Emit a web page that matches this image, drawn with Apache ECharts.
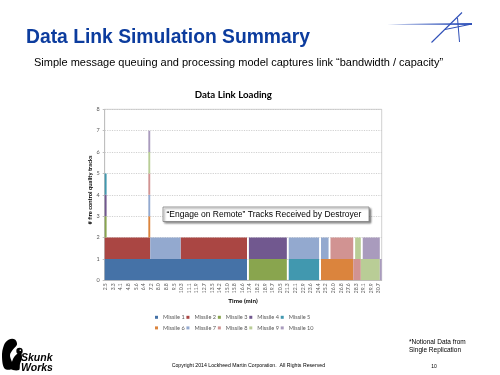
<!DOCTYPE html>
<html><head><meta charset="utf-8">
<script src="https://cdn.jsdelivr.net/npm/echarts@6/dist/echarts.min.js"></script>
<style>html,body{margin:0;padding:0;background:#fff}#c{width:500px;height:375px}</style>
</head><body><div id="c"></div>
<script>
// Time categories (min); every 4th one is labelled on the axis
const times = ["2.5","2.7","2.9","3.1","3.3","3.5","3.7","3.9","4.1","4.3",
"4.5","4.7","4.8","5.0","5.2","5.4","5.6","5.8","6.0","6.2",
"6.4","6.6","6.8","7.0","7.2","7.4","7.6","7.8","8.0","8.2",
"8.4","8.6","8.8","9.0","9.2","9.3","9.5","9.7","9.9","10.1",
"10.3","10.5","10.7","10.9","11.1","11.3","11.5","11.7","11.9","12.1",
"12.3","12.5","12.7","12.9","13.1","13.3","13.5","13.7","13.9","14.0",
"14.2","14.4","14.6","14.8","15.0","15.2","15.4","15.6","15.8","16.0",
"16.2","16.4","16.6","16.8","17.0","17.2","17.4","17.6","17.8","18.0",
"18.2","18.4","18.5","18.7","18.9","19.1","19.3","19.5","19.7","19.9",
"20.1","20.3","20.5","20.7","20.9","21.1","21.3","21.5","21.7","21.9",
"22.1","22.3","22.5","22.7","22.9","23.0","23.2","23.4","23.6","23.8",
"24.0","24.2","24.4","24.6","24.8","25.0","25.2","25.4","25.6","25.8",
"26.0","26.2","26.4","26.6","26.8","27.0","27.2","27.4","27.6","27.7",
"27.9","28.1","28.3","28.5","28.7","28.9","29.1","29.3","29.5","29.7",
"29.9","30.1","30.3","30.5","30.7","30.9"];

const seriesNames = ["Missile 1","Missile 2","Missile 3","Missile 4","Missile 5",
                     "Missile 6","Missile 7","Missile 8","Missile 9","Missile 10"];

// Tracks per missile at each time category (one digit per category, grouped by 10)
const missile1  = "1111111111 1111111111 1111111111 1111111111 1111111111 1111111111 1111111111 1111100000 0000000000 0000000000 0000000000 0000000000 0000000000 0000000000 000000";
const missile2  = "1111111111 1111111111 1111000000 0000000000 1111111111 1111111111 1111111111 1111100000 0000000000 0000000000 0000000000 0000000000 0000000000 0000000000 000000";
const missile3  = "1000000000 0000000000 0000000000 0000000000 0000000000 0000000000 0000000000 0000001111 1111111111 1111110000 0000000000 0000000000 0000000000 0000000000 000000";
const missile4  = "1000000000 0000000000 0000000000 0000000000 0000000000 0000000000 0000000000 0000001111 1111111111 1111110000 0000000000 0000000000 0000000000 0000000000 000000";
const missile5  = "1000000000 0000000000 0000000000 0000000000 0000000000 0000000000 0000000000 0000000000 0000000000 0000000111 1111111111 1110000000 0000000000 0000000000 000000";
const missile6  = "0000000000 0000000000 0001000000 0000000000 0000000000 0000000000 0000000000 0000000000 0000000000 0000000000 0000000000 0000111111 1111111111 1000000000 000000";
const missile7  = "0000000000 0000000000 0001111111 1111111111 0000000000 0000000000 0000000000 0000000000 0000000000 0000000111 1111111111 1110111100 0000000000 0000000000 000000";
const missile8  = "0000000000 0000000000 0001000000 0000000000 0000000000 0000000000 0000000000 0000000000 0000000000 0000000000 0000000000 0000000001 1111111111 1111100000 000000";
const missile9  = "0000000000 0000000000 0001000000 0000000000 0000000000 0000000000 0000000000 0000000000 0000000000 0000000000 0000000000 0000000000 0000000000 0011111111 111110";
const missile10 = "0000000000 0000000000 0001000000 0000000000 0000000000 0000000000 0000000000 0000000000 0000000000 0000000000 0000000000 0000000000 0000000000 0000001111 111111";

const seriesColors = ["#4572A7","#AA4643","#89A54E","#71588F","#4198AF",
                      "#DB843D","#93A9CF","#D19392","#B9CD96","#A99BBD"];

const rows = [missile1,missile2,missile3,missile4,missile5,missile6,missile7,missile8,missile9,missile10]
  .map(s => { const a = s.replace(/\s/g,'').split('').map(Number);
              if (a.length !== times.length) throw new Error('length ' + a.length); return a; });

const chart = echarts.init(document.getElementById('c'), null, {renderer:'canvas'});
const lbl = '#595959';
const cf = 'Lato, "Open Sans", sans-serif';
const arial = '"Liberation Sans", Arial, sans-serif';

const legendBase = {icon: 'rect', itemWidth: 3, itemHeight: 3, itemGap: 1.8, padding: 0,
  textStyle: {fontSize: 5.6, color: lbl, fontFamily: cf}};

chart.setOption({
  animation: false,
  backgroundColor: '#ffffff',
  grid: {left: 104.7, top: 109.3, width: 277, height: 171, show: true, borderColor: '#d0d0d0', borderWidth: 1, containLabel: false},
  xAxis: {
    type: 'category', data: times, boundaryGap: true,
    axisLine: {lineStyle: {color: '#bfbfbf'}},
    axisTick: {show: false},
    axisLabel: {interval: 3, rotate: 90, fontSize: 5, color: lbl, fontFamily: cf, margin: 3},
    splitLine: {show: false}
  },
  yAxis: {
    type: 'value', min: 0, max: 8, interval: 1,
    axisLine: {show: true, lineStyle: {color: '#bfbfbf'}},
    axisTick: {show: true, length: 2, lineStyle: {color: '#bfbfbf'}},
    axisLabel: {fontSize: 5.5, color: lbl, fontFamily: cf, margin: 5},
    splitLine: {lineStyle: {color: '#c4c4c4', type: [1.2, 1.2], width: 0.8}}
  },
  legend: [
    Object.assign({data: seriesNames.slice(0,5), left: 155, top: 314.3}, legendBase),
    Object.assign({data: seriesNames.slice(5), left: 155, top: 324.9}, legendBase)
  ],
  series: seriesNames.map((n, i) => ({
    name: n, type: 'bar', stack: 'tracks',
    data: rows[i].map(v => v === 0 ? '-' : v),
    barCategoryGap: '0%',
    large: true, largeThreshold: 1,
    itemStyle: {color: seriesColors[i]}
  })),
  graphic: [
    {type: 'text', x: 26, y: 37.6, style: {text: 'Data Link Simulation Summary', font: 'bold 19.3px ' + arial, fill: '#0c3c9e', textAlign: 'left', textVerticalAlign: 'middle'}},
    {type: 'text', x: 34, y: 63, style: {text: 'Simple message queuing and processing model captures link \u201Cbandwidth / capacity\u201D', font: '11px ' + arial, fill: '#000', textAlign: 'left', textVerticalAlign: 'middle'}},
    // logo
    {type: 'polygon', shape: {points: [[387,24.3],[472,23.0],[472,25.0]]}, style: {fill: '#3355bb'}},
    {type: 'line', shape: {x1: 462, y1: 12.5, x2: 431.5, y2: 42.5}, style: {stroke: '#3050b8', lineWidth: 1.1}},
    {type: 'line', shape: {x1: 457.5, y1: 18, x2: 459.5, y2: 42}, style: {stroke: '#3050b8', lineWidth: 1}},
    {type: 'line', shape: {x1: 445, y1: 29.5, x2: 472, y2: 24}, style: {stroke: '#3050b8', lineWidth: 1}},
    // chart title & axis names
    {type: 'text', x: 233.3, y: 95, style: {text: 'Data Link Loading', font: 'bold 9.7px Lato, sans-serif', fill: '#000', textAlign: 'center', textVerticalAlign: 'middle'}},
    {type: 'text', x: 243, y: 301, style: {text: 'Time (min)', font: 'bold 6.3px Lato, sans-serif', fill: '#000', textAlign: 'center', textVerticalAlign: 'middle'}},
    {type: 'text', x: 90.5, y: 190, rotation: Math.PI/2, style: {text: '# fire control quality tracks', font: 'bold 5.8px Lato, sans-serif', fill: '#000', textAlign: 'center', textVerticalAlign: 'middle'}},
    // annotation box
    {type: 'rect', z: 100, shape: {x: 163, y: 207, width: 206, height: 14.5}, style: {fill: '#fff', stroke: '#808080', lineWidth: 0.8, shadowBlur: 2, shadowOffsetX: 1.5, shadowOffsetY: 1.5, shadowColor: 'rgba(0,0,0,0.45)'}},
    {type: 'text', z: 101, x: 166.5, y: 214.3, style: {text: '\u201CEngage on Remote\u201D Tracks Received by Destroyer', font: '8.5px ' + arial, fill: '#000', textAlign: 'left', textVerticalAlign: 'middle'}},
    // footer
    {type: 'text', x: 409, y: 342.7, style: {text: '*Notional Data from', font: '6.5px ' + arial, fill: '#000', textAlign: 'left', textVerticalAlign: 'middle'}},
    {type: 'text', x: 409, y: 350.7, style: {text: 'Single Replication', font: '6.5px ' + arial, fill: '#000', textAlign: 'left', textVerticalAlign: 'middle'}},
    {type: 'text', x: 171.7, y: 365.3, style: {text: 'Copyright 2014 Lockheed Martin Corporation.  All Rights Reserved', font: '5.2px ' + arial, fill: '#000', textAlign: 'left', textVerticalAlign: 'middle'}},
    {type: 'text', x: 434, y: 366.7, style: {text: '10', font: '5px ' + arial, fill: '#000', textAlign: 'center', textVerticalAlign: 'middle'}},
    // skunk works logo
    {type: 'polygon', shape: {smooth: 0.35, points: [[5,369],[2,357],[4,345],[9,339.5],[15,339.5],[17,344.5],[13,349.5],[10,355],[12,362],[14,368]]}, style: {fill: '#000'}},
    {type: 'polygon', shape: {smooth: 0.3, points: [[11,369],[13,359],[17,354],[21,353],[22,358],[20,364],[19,370]]}, style: {fill: '#000'}},
    {type: 'circle', shape: {cx: 19.5, cy: 351, r: 3.2}, style: {fill: '#000'}},
    {type: 'circle', shape: {cx: 20.3, cy: 350.3, r: 0.8}, style: {fill: '#fff'}},
    {type: 'text', x: 21, y: 358.5, style: {text: 'Skunk', font: 'italic bold 10.5px ' + arial, fill: '#000', textAlign: 'left', textVerticalAlign: 'middle'}},
    {type: 'text', x: 21, y: 368.5, style: {text: 'Works', font: 'italic bold 10.5px ' + arial, fill: '#000', textAlign: 'left', textVerticalAlign: 'middle'}}
  ]
});
</script></body></html>
